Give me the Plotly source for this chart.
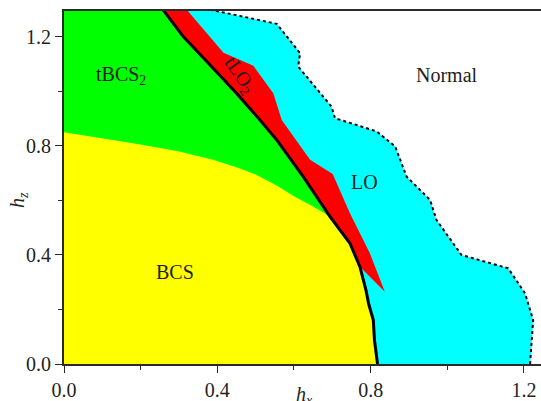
import plotly.graph_objects as go

# ---- data ----
# thick black boundary (tBCS2/BCS | tLO2/LO), top -> bottom
bx = [0.258, 0.311, 0.381, 0.450, 0.507, 0.555, 0.624, 0.694, 0.746, 0.772, 0.788, 0.795, 0.807, 0.810, 0.818]
by = [1.300, 1.201, 1.097, 0.993, 0.902, 0.822, 0.687, 0.541, 0.443, 0.357, 0.270, 0.220, 0.161, 0.088, 0.000]

# right edge of the red tLO2 sliver, top -> tip
rx = [0.320, 0.416, 0.494, 0.546, 0.568, 0.642, 0.701, 0.746, 0.798, 0.837]
ry = [1.300, 1.142, 1.094, 0.993, 0.895, 0.749, 0.697, 0.553, 0.406, 0.265]

# dotted LO / Normal boundary, top -> bottom
dx = [0.381, 0.555, 0.616, 0.611, 0.698, 0.707, 0.816, 0.864, 0.894, 0.955, 0.972, 1.037, 1.159, 1.203, 1.224, 1.220, 1.216]
dy = [1.300, 1.248, 1.140, 1.091, 0.944, 0.902, 0.853, 0.798, 0.687, 0.602, 0.528, 0.400, 0.351, 0.259, 0.161, 0.064, 0.000]

# upper edge of the yellow BCS region, left -> right
yx = [0.000, 0.100, 0.200, 0.300, 0.389, 0.450, 0.500, 0.555, 0.600, 0.650, 0.694]
yy = [0.850, 0.828, 0.805, 0.780, 0.749, 0.722, 0.695, 0.655, 0.615, 0.578, 0.541]

labels = ["tBCS<sub>2</sub>", "BCS", "LO", "Normal"]
lab_x = [0.150, 0.290, 0.785, 1.000]
lab_y = [1.060, 0.338, 0.668, 1.060]

XMAX, YMAX = 1.2445, 1.295
TXT = "#231f20"
FONT = '"Liberation Serif", "Times New Roman", Times, serif'

fig = go.Figure()

def poly(xs, ys, color):
    fig.add_trace(go.Scatter(x=xs, y=ys, mode="lines", fill="toself",
                             fillcolor=color, line=dict(width=0, color=color),
                             hoverinfo="skip", showlegend=False))

# LO (cyan): everything left of the dotted line
poly([0] + dx + [0], [YMAX + 0.01] + dy + [0], "#00ffff")
# tBCS2 (green): left of the black line
poly([0] + bx + [0], [YMAX + 0.01] + by + [0], "#00ff00")
# BCS (yellow)
lowb = [(x, y) for x, y in zip(bx, by) if y < yy[-1]]
poly(yx + [p[0] for p in lowb] + [0], yy + [p[1] for p in lowb] + [0], "#ffff00")
# tLO2 (red)
upb = [(x, y) for x, y in zip(bx, by) if y >= 0.357]
poly([p[0] for p in upb] + rx[::-1], [p[1] for p in upb] + ry[::-1], "#ff0000")

# boundaries
fig.add_trace(go.Scatter(x=bx, y=by, mode="lines", line=dict(color="black", width=3),
                         hoverinfo="skip", showlegend=False))
fig.add_trace(go.Scatter(x=dx, y=dy, mode="lines", line=dict(color="black", width=2, dash="dot"),
                         hoverinfo="skip", showlegend=False))

for t, x, y in zip(labels, lab_x, lab_y):
    fig.add_annotation(x=x, y=y, text=t, showarrow=False,
                       font=dict(family=FONT, size=20, color=TXT))
fig.add_annotation(x=0.459, y=1.06, text="tLO<sub>2</sub>", showarrow=False, textangle=55,
                   font=dict(family=FONT, size=20, color=TXT))

# axis titles
fig.add_annotation(xref="paper", yref="paper", x=-0.094, y=0.465, text="<i>h<sub>z</sub></i>",
                   xanchor="center", yanchor="middle",
                   showarrow=False, textangle=-90, font=dict(family=FONT, size=20, color=TXT))
fig.add_annotation(xref="paper", yref="paper", x=0.505, y=-0.047, yanchor="top", xanchor="center",
                   text="<i>h<sub>x</sub></i>", showarrow=False,
                   font=dict(family=FONT, size=20, color=TXT))

axis_common = dict(showgrid=False, zeroline=False, showline=True, linecolor="#2b2b2b",
                   linewidth=2, ticks="outside", ticklen=7, tickwidth=1.2, tickcolor="#2b2b2b",
                   tickformat=".1f", dtick=0.4, tick0=0,
                   minor=dict(dtick=0.2, tick0=0, ticks="outside", ticklen=4, tickcolor="#2b2b2b"),
                   tickfont=dict(family=FONT, size=20, color=TXT))

fig.update_xaxes(range=[0, XMAX], mirror=True, **axis_common)
fig.update_yaxes(range=[0, YMAX], mirror=False, **axis_common)

fig.update_layout(width=541, height=401, margin=dict(l=64, r=0, t=11, b=37),
                  plot_bgcolor="white", paper_bgcolor="white",
                  font=dict(family=FONT, color=TXT))

fig.write_html("out.html")
